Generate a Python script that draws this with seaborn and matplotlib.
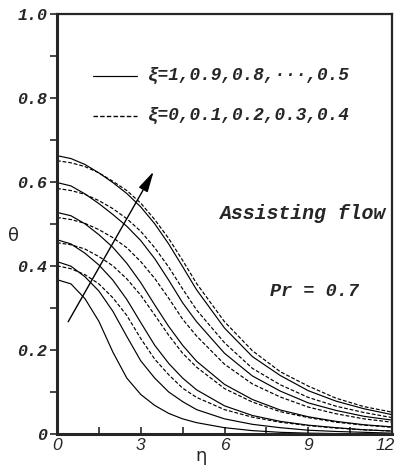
import matplotlib
matplotlib.use("Agg")
import matplotlib.pyplot as plt
import matplotlib.transforms as mtransforms
from matplotlib.lines import Line2D
from matplotlib.ticker import MultipleLocator, FixedLocator
import seaborn as sns

# similarity coordinate
ETA = [0, 0.5, 1, 1.5, 2, 2.5, 3, 3.5, 4, 4.5, 5, 6, 7, 8, 9, 10, 11, 12]

# temperature profiles, solid family (xi = 1, 0.9, ..., 0.5)
XI_SOLID = [1.0, 0.9, 0.8, 0.7, 0.6, 0.5]
THETA_SOLID = [
    [0.367, 0.357, 0.322, 0.268, 0.195, 0.133, 0.094, 0.068, 0.049, 0.036, 0.027, 0.015, 0.008, 0.004, 0.002, 0.001, 0.0005, 0.0],
    [0.410, 0.399, 0.374, 0.340, 0.292, 0.232, 0.174, 0.133, 0.100, 0.077, 0.058, 0.036, 0.023, 0.015, 0.009, 0.006, 0.004, 0.002],
    [0.462, 0.452, 0.430, 0.402, 0.366, 0.320, 0.265, 0.211, 0.168, 0.133, 0.105, 0.067, 0.044, 0.030, 0.021, 0.015, 0.010, 0.007],
    [0.527, 0.519, 0.500, 0.474, 0.444, 0.406, 0.360, 0.307, 0.256, 0.211, 0.173, 0.118, 0.082, 0.057, 0.041, 0.030, 0.022, 0.017],
    [0.598, 0.590, 0.571, 0.548, 0.522, 0.494, 0.460, 0.417, 0.366, 0.312, 0.267, 0.192, 0.138, 0.102, 0.074, 0.056, 0.042, 0.033],
    [0.662, 0.655, 0.641, 0.621, 0.598, 0.572, 0.540, 0.500, 0.452, 0.398, 0.343, 0.252, 0.184, 0.139, 0.103, 0.078, 0.060, 0.046],
]

# temperature profiles, dashed family (xi = 0, 0.1, ..., 0.4)
XI_DASHED = [0.4, 0.3, 0.2, 0.1, 0.0]
THETA_DASHED = [
    [0.400, 0.393, 0.379, 0.357, 0.324, 0.282, 0.227, 0.178, 0.141, 0.109, 0.087, 0.058, 0.040, 0.028, 0.020, 0.014, 0.010, 0.007],
    [0.455, 0.450, 0.440, 0.422, 0.400, 0.369, 0.330, 0.283, 0.235, 0.192, 0.159, 0.108, 0.076, 0.053, 0.039, 0.028, 0.021, 0.016],
    [0.515, 0.510, 0.501, 0.486, 0.467, 0.443, 0.410, 0.370, 0.323, 0.273, 0.233, 0.166, 0.119, 0.088, 0.064, 0.048, 0.036, 0.028],
    [0.584, 0.579, 0.570, 0.555, 0.536, 0.512, 0.482, 0.443, 0.397, 0.345, 0.295, 0.217, 0.156, 0.117, 0.087, 0.066, 0.051, 0.039],
    [0.650, 0.645, 0.636, 0.621, 0.601, 0.579, 0.549, 0.510, 0.465, 0.413, 0.358, 0.267, 0.198, 0.148, 0.114, 0.085, 0.065, 0.052],
]

X_TICKS = [0, 3, 6, 9, 12]
Y_TICKS = [0, 0.2, 0.4, 0.6, 0.8, 1.0]
Y_TICK_LABELS = ["0", "0.2", "0.4", "0.6", "0.8", "1.0"]
LEGEND_SOLID = "\u03be=1,0.9,0.8,\u00b7\u00b7\u00b7,0.5"
LEGEND_DASHED = "\u03be=0,0.1,0.2,0.3,0.4"

sns.set_style("ticks")
plt.rcParams["font.family"] = ["DejaVu Sans"]

fig = plt.figure(figsize=(3.96, 4.68), dpi=100)
ax = fig.add_axes([57 / 396, 1 - 434 / 468, (392 - 57) / 396, (434 - 13.5) / 468])

DASH = (0, (3.2, 1.6))
for vals in THETA_SOLID:
    sns.lineplot(x=ETA, y=vals, ax=ax, color="black", linewidth=0.85)
for vals in THETA_DASHED:
    sns.lineplot(x=ETA, y=vals, ax=ax, color="black", linewidth=0.85, linestyle=DASH)

ax.set_xlim(0, 12)
ax.set_ylim(0, 1.0)

ax.xaxis.set_major_locator(FixedLocator(X_TICKS))
ax.xaxis.set_minor_locator(MultipleLocator(1.5))
ax.yaxis.set_major_locator(FixedLocator(Y_TICKS))
ax.yaxis.set_minor_locator(MultipleLocator(0.1))
ax.set_yticklabels(Y_TICK_LABELS)
ax.set_xticklabels([str(t) for t in X_TICKS])

ax.tick_params(axis="y", which="both", direction="out", length=5, width=1.2, pad=2)
ax.tick_params(axis="x", which="both", direction="in", length=5, width=1.2, pad=3)
for lab in ax.get_yticklabels():
    lab.set_fontfamily("Liberation Mono")
    lab.set_fontweight("bold")
    lab.set_fontstyle("italic")
    lab.set_fontsize(12)
xlabels = ax.get_xticklabels()
for lab in xlabels:
    lab.set_fontfamily("Liberation Sans")
    lab.set_fontstyle("italic")
    lab.set_fontsize(12.5)
# keep the last tick label inside the figure edge
xlabels[-1].set_horizontalalignment("right")
xlabels[-1].set_transform(xlabels[-1].get_transform()
                          + mtransforms.ScaledTranslation(3 / 100, 0, fig.dpi_scale_trans))

for side in ["left", "bottom"]:
    ax.spines[side].set_linewidth(2.2)
for side in ["top", "right"]:
    ax.spines[side].set_linewidth(1.6)
    ax.spines[side].set_visible(True)

ax.set_xlabel("\u03b7", fontsize=13)
ax.set_ylabel("\u03b8", fontsize=13, rotation=0)
ax.xaxis.label.set_verticalalignment("center")
ax.xaxis.set_label_coords(0.43, -0.052)
ax.yaxis.set_label_coords(-0.13, 0.45)

# legend key drawn inside the frame
ax.add_line(Line2D([0.108, 0.24], [0.852, 0.852], transform=ax.transAxes, color="black", linewidth=0.85))
ax.add_line(Line2D([0.108, 0.24], [0.757, 0.757], transform=ax.transAxes, color="black", linewidth=1.0, linestyle=(0, (3.2, 1.6))))
txt_kw = dict(transform=ax.transAxes, family="Liberation Mono", style="italic", weight="bold", fontsize=12.8, va="center", ha="left")
ax.text(0.27, 0.852, LEGEND_SOLID, **txt_kw)
ax.text(0.27, 0.757, LEGEND_DASHED, **txt_kw)

ax.text(0.485, 0.525, "Assisting flow", transform=ax.transAxes, family="Liberation Mono",
        style="italic", weight="bold", fontsize=14.3, va="center", ha="left")
ax.text(0.635, 0.338, "Pr = 0.7", transform=ax.transAxes, family="Liberation Mono",
        style="italic", weight="bold", fontsize=13.3, va="center", ha="left")

ax.annotate("", xy=(3.46, 0.624), xytext=(0.4, 0.267),
            arrowprops=dict(arrowstyle="-|>,head_length=0.9,head_width=0.22", color="black",
                            lw=1.0, mutation_scale=14, shrinkA=0, shrinkB=0))

fig.savefig("out.png", dpi=100)
